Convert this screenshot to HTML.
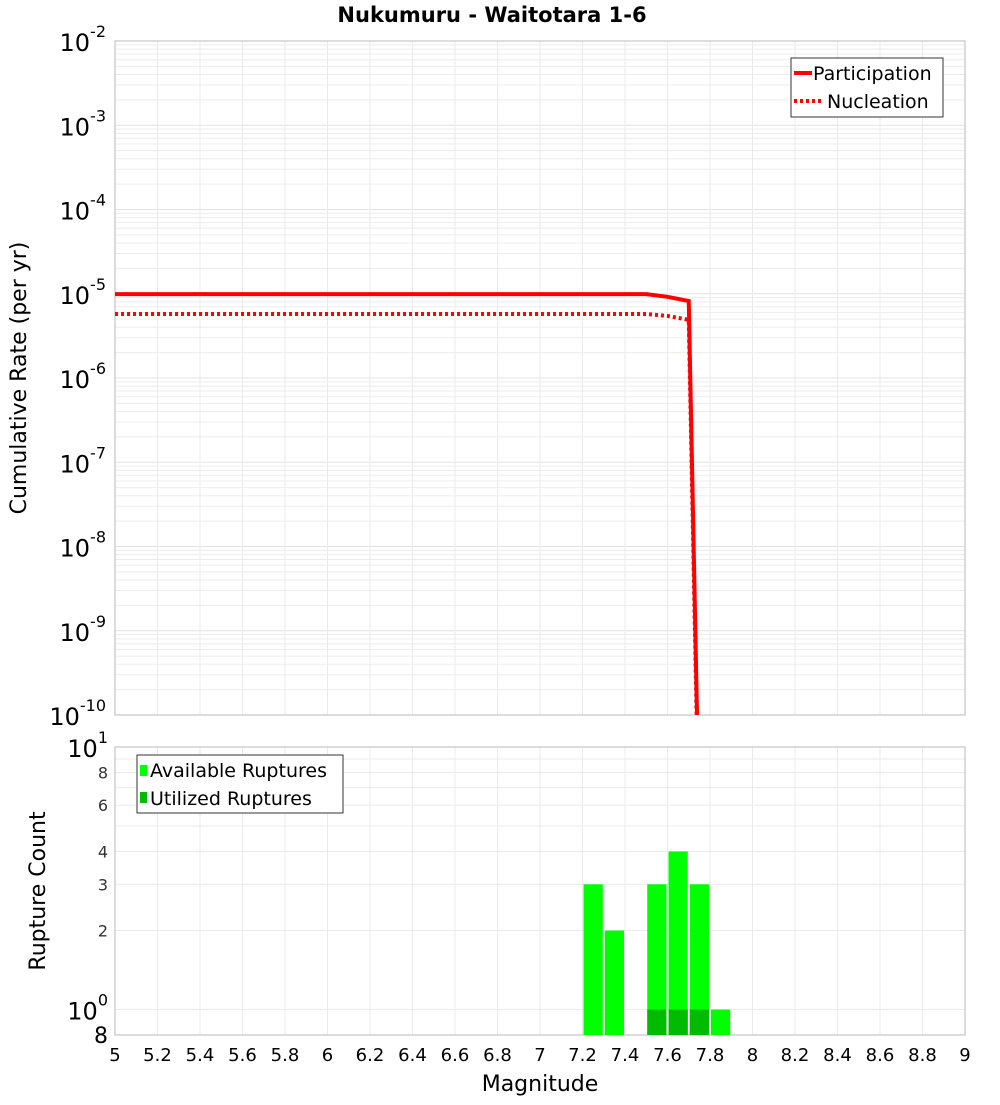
<!DOCTYPE html>
<html><head><meta charset="utf-8"><style>
body{margin:0;background:#fff;font-family:"Liberation Sans","DejaVu Sans",sans-serif}
svg text{font-family:"DejaVu Sans","Liberation Sans",sans-serif}
</style></head><body>
<svg id="c" width="1000" height="1100" xmlns="http://www.w3.org/2000/svg">
<text x="492" y="22" font-size="21" font-weight="bold" text-anchor="middle">Nukumuru - Waitotara 1-6</text>
<g id="topplot"></g>
<g id="botplot"></g>
</svg>
<script>
const mags=[5.0,7.5,7.6,7.7,7.8];
const partRates=[9.9e-6,9.9e-6,9.2e-6,8.2e-6,2e-18];
const nuclRates=[5.75e-6,5.75e-6,5.45e-6,4.9e-6,1e-18];
const barMags=[7.25,7.35,7.55,7.65,7.75,7.85];
const availCounts=[3,2,3,4,3,1];
const utilMags=[7.55,7.65,7.75];
const utilCounts=[1,1,1];
const xTicks=[5,5.2,5.4,5.6,5.8,6,6.2,6.4,6.6,6.8,7,7.2,7.4,7.6,7.8,8,8.2,8.4,8.6,8.8,9];
const yExps=[-2,-3,-4,-5,-6,-7,-8,-9,-10];
const countTicks=[2,3,4,6,8];

const NS="http://www.w3.org/2000/svg";
const svgEl=document.getElementById('c');
const topG=document.getElementById('topplot'), botG=document.getElementById('botplot');
function mk(p,t,a,txt){const e=document.createElementNS(NS,t);for(const k in a)e.setAttribute(k,a[k]);if(txt!=null)e.textContent=txt;p.appendChild(e);return e;}
const X0=115,X1=965;
const xs=m=>X0+(m-5)/4*(X1-X0);
const T0=41,T1=715;
const yT=v=>T0+(-2-Math.log10(v))*(T1-T0)/8;
const B0=747,B1=1035,Blo=Math.log10(0.8);
const yB=v=>B0+(1-Math.log10(v))*(B1-B0)/(1-Blo);

const defs=mk(svgEl,'defs',{});
const cp=mk(defs,'clipPath',{id:'ct'});mk(cp,'rect',{x:X0,y:T0,width:X1-X0,height:T1-T0});

for(let e=-10;e<-2;e++)for(let k=1;k<10;k++){const y=yT(k*Math.pow(10,e));const g=mk(topG,'line',{x1:X0,x2:X1,y1:y,y2:y,stroke:k==1?'#e4e4e4':'#ededed','stroke-width':1});}
for(const t of xTicks){const x=xs(t);const g=mk(topG,'line',{x1:x,x2:x,y1:T0,y2:T1,stroke:'#ebebeb'});
const g2=mk(botG,'line',{x1:x,x2:x,y1:B0,y2:B1,stroke:'#ebebeb'});}
mk(topG,'rect',{x:X0,y:T0,width:X1-X0,height:T1-T0,fill:'none',stroke:'#b8b8b8'});
for(const e of yExps){const y=yT(Math.pow(10,e));const t=mk(topG,'text',{x:106,y:y+10,'font-size':24,'text-anchor':'end'});

mk(t,'tspan',{},'10');mk(t,'tspan',{dy:-14,'font-size':16},String(e));}
const yl=mk(topG,'text',{x:26,y:378,'font-size':22,'text-anchor':'middle',transform:'rotate(-90 26 378)'},'Cumulative Rate (per yr)');

function line(vals,dash,name){const pts=mags.map((m,i)=>xs(m)+','+yT(vals[i])).join(' ');
const l=mk(topG,'polyline',{points:pts,fill:'none',stroke:'#ff0000','stroke-width':4,'clip-path':'url(#ct)'});
if(dash)l.setAttribute('stroke-dasharray','3,3');
}
line(nuclRates,true,'nucleation-line');
line(partRates,false,'participation-line');
const lg=mk(topG,'g',{});
mk(lg,'rect',{x:791,y:58,width:152,height:59,fill:'#fff',stroke:'#333'});
mk(lg,'line',{x1:794,x2:812,y1:73,y2:73,stroke:'#f00','stroke-width':4});
mk(lg,'text',{x:813,y:80,'font-size':19},'Participation');
mk(lg,'line',{x1:794,x2:822,y1:101,y2:101,stroke:'#f00','stroke-width':4,'stroke-dasharray':'3,3'});
mk(lg,'text',{x:827,y:108,'font-size':19},'Nucleation');

for(let k=1;k<=10;k++){const y=yB(k);const g=mk(botG,'line',{x1:X0,x2:X1,y1:y,y2:y,stroke:'#ebebeb'});}
mk(botG,'rect',{x:X0,y:B0,width:X1-X0,height:B1-B0,fill:'none',stroke:'#b8b8b8'});
const bw=(X1-X0)/4*0.1;
barMags.forEach((m,i)=>{const y=yB(availCounts[i]);const r=mk(botG,'rect',{x:xs(m)-bw/2+1,y:y,width:bw-2,height:B1-y,fill:'#00ff00'});
});
utilMags.forEach((m,i)=>{const y=yB(utilCounts[i]);const r=mk(botG,'rect',{x:xs(m)-bw/2+1,y:y,width:bw-2,height:B1-y,fill:'#00bb00'});
});
for(const c of countTicks){const t=mk(botG,'text',{x:108,y:yB(c)+6,'font-size':16,'text-anchor':'end','fill':'#333'},String(c));
}
{const t=mk(botG,'text',{x:108,y:yB(10)+10,'font-size':24,'text-anchor':'end'});mk(t,'tspan',{},'10');mk(t,'tspan',{dy:-14,'font-size':16},'1');}
{const t=mk(botG,'text',{x:108,y:yB(1)+10,'font-size':24,'text-anchor':'end'});mk(t,'tspan',{},'10');mk(t,'tspan',{dy:-14,'font-size':16},'0');}
{const t=mk(botG,'text',{x:108,y:1043,'font-size':22,'text-anchor':'end'},'8');}
for(const v of xTicks){const t=mk(botG,'text',{x:xs(v),y:1061,'font-size':18,'text-anchor':'middle'},String(v));}
const xl=mk(botG,'text',{x:540,y:1091,'font-size':22,'text-anchor':'middle'},'Magnitude');
const yl2=mk(botG,'text',{x:45,y:891,'font-size':22,'text-anchor':'middle',transform:'rotate(-90 45 891)'},'Rupture Count');

const lg2=mk(botG,'g',{});
mk(lg2,'rect',{x:137,y:755,width:206,height:58,fill:'#fff',stroke:'#333'});
mk(lg2,'rect',{x:140,y:765,width:7,height:11,fill:'#00ff00'});
mk(lg2,'text',{x:150,y:777,'font-size':19},'Available Ruptures');
mk(lg2,'rect',{x:140,y:792,width:7,height:11,fill:'#00bb00'});
mk(lg2,'text',{x:150,y:805,'font-size':19},'Utilized Ruptures');
</script>
</body></html>
